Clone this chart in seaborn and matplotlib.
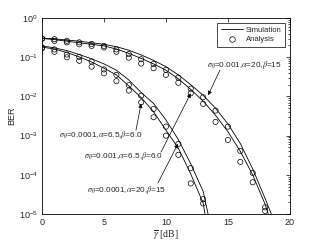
import numpy as np
import pandas as pd
import matplotlib
matplotlib.use("Agg")
import matplotlib.pyplot as plt
import seaborn as sns
from matplotlib.lines import Line2D
from matplotlib.ticker import LogLocator, NullFormatter

# ---- data (log10 BER) ----
x_right = [0, 1, 2, 3, 4, 5, 6, 7, 8, 9, 10, 11, 12, 13, 14, 15, 16, 17, 18]
x_left = [0, 1, 2, 3, 4, 5, 6, 7, 8, 9, 10, 11, 12, 13]

# simulation lines
rl1_x = x_right + [18.5]
rl1 = [-0.51, -0.53, -0.56, -0.59, -0.63, -0.67, -0.73, -0.82, -0.94, -1.08, -1.24,
       -1.45, -1.70, -1.97, -2.30, -2.70, -3.20, -3.85, -4.60, -5.0]
rl2_x = x_right + [18.25]
rl2 = [-0.52, -0.55, -0.59, -0.63, -0.67, -0.71, -0.79, -0.90, -1.03, -1.17, -1.33,
       -1.55, -1.82, -2.12, -2.48, -2.90, -3.40, -4.00, -4.75, -5.0]
ll1_x = x_left + [13.4]
ll1 = [-0.71, -0.76, -0.83, -0.93, -1.04, -1.17, -1.33, -1.58, -1.90, -2.18, -2.60,
       -3.10, -3.72, -4.42, -5.0]
ll2_x = x_left + [13.15]
ll2 = [-0.74, -0.79, -0.88, -0.99, -1.12, -1.28, -1.45, -1.73, -2.03, -2.39, -2.86,
       -3.32, -3.98, -4.72, -5.0]

# analysis circles
rc1 = [-0.52, -0.54, -0.58, -0.62, -0.66, -0.71, -0.80, -0.92, -1.05, -1.17, -1.32,
       -1.52, -1.80, -2.02, -2.36, -2.77, -3.39, -3.95, -4.83]
rc2 = [-0.53, -0.58, -0.62, -0.67, -0.71, -0.75, -0.86, -1.01, -1.16, -1.28, -1.45,
       -1.65, -1.92, -2.19, -2.65, -3.11, -3.67, -4.19, -4.92]
lc1 = [-0.75, -0.80, -0.93, -0.99, -1.11, -1.31, -1.45, -1.71, -1.98, -2.32, -2.77,
       -3.21, -3.83, -4.62]
lc2 = [-0.77, -0.86, -1.00, -1.09, -1.24, -1.41, -1.61, -1.85, -2.15, -2.53, -3.00,
       -3.49, -4.22, -4.73]

ann_texts = [r"$\sigma_\theta$=0.001,$\alpha$=20,$\beta$=15",
             r"$\sigma_\theta$=0.0001,$\alpha$=6.5,$\beta$=6.0",
             r"$\sigma_\theta$=0.001,$\alpha$=6.5,$\beta$=6.0",
             r"$\sigma_\theta$=0.0001,$\alpha$=20,$\beta$=15"]

# ---- build long-form tables ----
def long(name, xs, ys):
    return pd.DataFrame({"snr": xs, "ber": 10.0 ** np.array(ys), "curve": name})

lines_df = pd.concat([long("R1", rl1_x, rl1), long("R2", rl2_x, rl2),
                      long("L1", ll1_x, ll1), long("L2", ll2_x, ll2)])
pts_df = pd.concat([long("R1", x_right, rc1), long("R2", x_right, rc2),
                    long("L1", x_left, lc1), long("L2", x_left, lc2)])

sns.set_theme(style="white")
plt.rcParams["font.family"] = ["Liberation Sans", "DejaVu Sans"]
plt.rcParams["mathtext.fontset"] = "stix"
plt.rcParams["xtick.direction"] = "in"
plt.rcParams["ytick.direction"] = "in"

fig = plt.figure(figsize=(3.21, 2.41), dpi=100)
ax = fig.add_axes([0.131, 0.112, 0.772, 0.813])

black = {k: "black" for k in ["R1", "R2", "L1", "L2"]}
sns.lineplot(data=lines_df, x="snr", y="ber", hue="curve", palette=black,
             linewidth=0.6, legend=False, ax=ax, sort=True, estimator=None)
sns.scatterplot(data=pts_df, x="snr", y="ber", hue="curve", palette=black,
                marker="o", s=14, facecolors="none", linewidth=0.5,
                legend=False, ax=ax)
for coll in ax.collections:
    coll.set_facecolor("none")
    coll.set_edgecolor("black")

ax.set_yscale("log")
ax.set_xlim(0, 20)
ax.set_ylim(1e-5, 1)
ax.set_xticks([0, 5, 10, 15, 20])
ax.yaxis.set_major_locator(LogLocator(base=10, numticks=10))
ax.yaxis.set_minor_locator(LogLocator(base=10, subs=np.arange(2, 10), numticks=10))
ax.yaxis.set_minor_formatter(NullFormatter())
ax.tick_params(axis="both", which="both", direction="in", top=True, right=True,
               labelsize=6.5, width=0.5, color="black", pad=3)
ax.tick_params(axis="both", which="major", length=3)
ax.tick_params(axis="y", which="minor", length=1.5)
for sp in ax.spines.values():
    sp.set_linewidth(0.6)
    sp.set_color("black")

ax.set_ylabel("BER", fontsize=6.5, labelpad=2)
ax.set_xlabel(r"$\overline{\gamma}$ [dB]", fontsize=7, family=["Liberation Serif"], labelpad=1)

# annotations: (text pos, arrow tail, arrow tip)
ann_pos = [(16.3, 10 ** -1.20), (4.76, 10 ** -2.98), (6.61, 10 ** -3.52), (6.85, 10 ** -4.39)]
ann_tail = [(14.35, 10 ** -1.33), (7.58, 10 ** -2.86), (9.6, 10 ** -3.42), (9.35, 10 ** -4.21)]
ann_tip = [(13.4, 10 ** -1.97), (8.0, 10 ** -2.18), (12.0, 10 ** -1.92), (10.97, 10 ** -3.21)]
for t, p, tl, tp in zip(ann_texts, ann_pos, ann_tail, ann_tip):
    ax.text(p[0], p[1], t, fontsize=5.9, ha="center", va="center")
    ax.annotate("", xy=tp, xytext=tl,
                arrowprops=dict(arrowstyle="-|>", lw=0.5, color="black",
                                mutation_scale=6, shrinkA=0, shrinkB=0))

handles = [Line2D([0], [0], color="black", lw=0.6),
           Line2D([0], [0], color="black", lw=0, marker="o", markersize=4,
                  markerfacecolor="none", markeredgewidth=0.5)]
leg = ax.legend(handles, ["Simulation", "Analysis"], loc="upper right", fontsize=5.5,
                frameon=True, fancybox=False, edgecolor="black", framealpha=1,
                borderpad=0.4, handlelength=2.9, handletextpad=0.4, labelspacing=0.3,
                borderaxespad=0.7)
leg.get_frame().set_linewidth(0.5)

fig.savefig("out.png", dpi=100)
